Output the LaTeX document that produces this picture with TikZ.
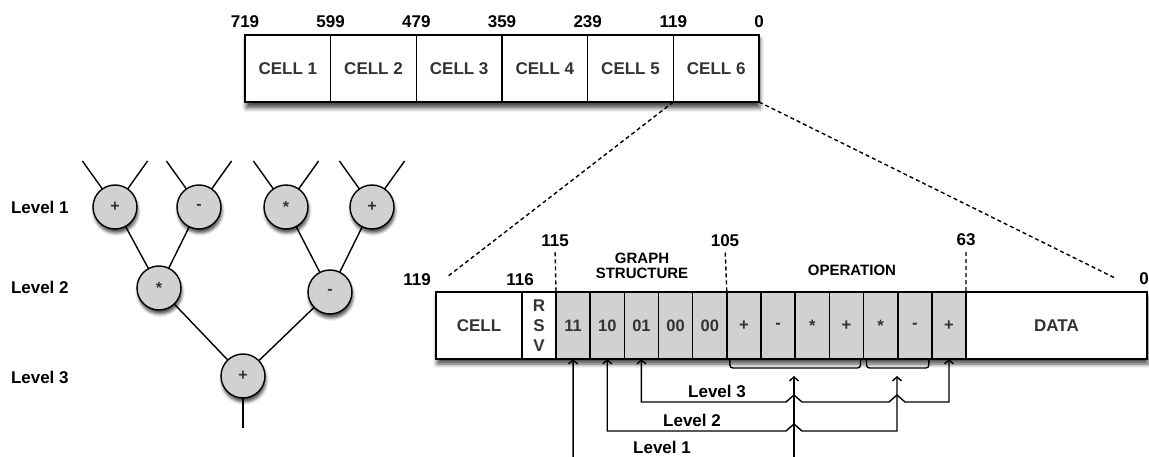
\documentclass[tikz,border=0pt]{standalone}
\usepackage{fontspec}
\setmainfont{Liberation Sans}
\usetikzlibrary{arrows.meta,shadows.blur}
\definecolor{cellgray}{HTML}{D1D1D1}
\definecolor{txtgray}{HTML}{333333}

\begin{document}
\begin{tikzpicture}[x=1pt,y=-1pt,
  font=\fontsize{17}{20}\selectfont\bfseries,
  every node/.style={inner sep=0pt,outer sep=0pt},
  wire/.style={line width=1.4pt},
  cellbox/.style={draw,line width=1.6pt,fill=white,text=txtgray,minimum height=67pt},
  bitbox/.style={cellbox,fill=cellgray,minimum width=34.17pt,font=\fontsize{16.5}{20}\selectfont\bfseries},
  opnode/.style={circle,draw,line width=1.4pt,fill=cellgray,minimum size=44pt,text=txtgray,
    font=\fontsize{16}{18}\selectfont\bfseries,
    blur shadow={shadow xshift=1pt,shadow yshift=-4pt,shadow blur radius=3pt,shadow opacity=70}},
  zoomline/.style={wire,dash pattern=on 4pt off 3pt},
  barshadow/.style={fill=white,blur shadow={shadow xshift=1pt,shadow yshift=-5pt,shadow blur radius=4pt,shadow opacity=70}},
  tip/.style={wire,{Straight Barb[length=4pt,width=9pt]}-{Straight Barb[length=4pt,width=9pt]}},
  uptip/.style={wire,-{Straight Barb[length=4pt,width=9pt]}}
]
\useasboundingbox (0,0) rectangle (1149,457);

% packet of six cells
\fill[barshadow] (245,34) rectangle (759,103);
\foreach \i in {1,...,6}
  \node[cellbox,minimum width=85.67pt] (c\i) at ({245+85.67*(\i-0.5)},68.5) {CELL \i};
\foreach \n [count=\k from 0] in {719,599,479,359,239,119,0}
  \node[above=6pt] (t\k) at ({245+85.67*\k},34) {\n};

% one cell in detail
\fill[barshadow] (436,292) rectangle (1147,359);
\node[cellbox,minimum width=86pt] (cellf) at (479,325.5) {CELL};
\node[cellbox,minimum width=34pt,align=center] (rsv) at (539,325.5) {R\\S\\V};
\foreach \b [count=\k] in {11,10,01,00,00,+,-,*,+,*,-,+}
  \node[bitbox] (b\k) at ({556+34.17*(\k-0.5)},325.5) {\b};
\node[cellbox,minimum width=181pt] (data) at (1056.5,325.5) {DATA};

% bit numbers
\node (n119) at (417,280) {119};
\node (n116) at (520,280) {116};
\node (n115) at (555,240.5) {115};
\node (n105) at (725,240.5) {105};
\node (n63) at (966,240) {63};
\node (n0) at (1144,279) {0};
\node[align=center,font=\fontsize{15}{15}\selectfont\bfseries] (gs) at (642,266) {GRAPH\\STRUCTURE};
\node[font=\fontsize{15}{15}\selectfont\bfseries] (op) at (852,270) {OPERATION};

\draw[zoomline,shorten <=6pt] (n115.south) -- (b1.north west);
\draw[zoomline,shorten <=6pt] (n105.south) -- (b5.north east);
\draw[zoomline,shorten <=6pt] (n63.south) -- (b12.north east);

% zoom lines
\coordinate (z1) at (447,277);
\coordinate (z2) at (1115,278);
\draw[zoomline] (c6.south west) -- (z1);
\draw[zoomline] (c6.south east) -- (z2);

% operation groups
\draw[wire,rounded corners=3pt] ([xshift=3pt]b6.south west) -- ++(0,9) -| ([xshift=-3pt]b9.south east);
\draw[wire,rounded corners=3pt] ([xshift=3pt]b10.south west) -- ++(0,9) -| ([xshift=-3pt]b11.south east);
\coordinate (br1) at (794,376);
\coordinate (br2) at (897,376);

% level links
\coordinate (h3) at (0,402);
\coordinate (h2) at (0,431);
\coordinate (l1a) at (573.1,460);
\coordinate (l1b) at (794,460);
\draw[uptip] (l1a) -- (b1.south);
\draw[uptip] (l1b) -- (br1);
\draw[tip] (b2.south) -- (b2.south |- h2) -- (786,431) -- (794,424) -- (802,431) -- (897,431) -- (br2);
\draw[tip] (b3.south) -- (b3.south |- h3) -- (786,402) -- (794,395) -- (802,402)
  -- (889,402) -- (897,395) -- (905,402) -- (b12.south |- h3) -- (b12.south);
\node (lv3) at (717,391) {Level 3};
\node (lv2) at (692,420) {Level 2};
\node (lv1) at (662,447) {Level 1};

% tree
\node[anchor=west] (t1) at (11,207) {Level 1};
\node[anchor=west] (t2) at (11,287) {Level 2};
\node[anchor=west] (t3) at (11,377) {Level 3};

\node[opnode] (a1) at (115,207) {+};
\node[opnode] (a2) at (199,207) {-};
\node[opnode] (a3) at (286,207) {*};
\node[opnode] (a4) at (372,207) {+};
\node[opnode] (m1) at (159,288) {*};
\node[opnode] (m2) at (330,292) {-};
\node[opnode] (r) at (243,376) {+};

\foreach \n in {a1,a2,a3,a4} {
  \draw[wire] (\n.125) -- ++(-20,-28);
  \draw[wire] (\n.55) -- ++(20,-28);
}
\draw[wire] (a1) -- (m1);
\draw[wire] (a2) -- (m1);
\draw[wire] (a3) -- (m2);
\draw[wire] (a4) -- (m2);
\draw[wire] (m1) -- (r);
\draw[wire] (m2) -- (r);
\coordinate (out) at (243,428);
\draw[wire] (r) -- (out);
\end{tikzpicture}
\end{document}
